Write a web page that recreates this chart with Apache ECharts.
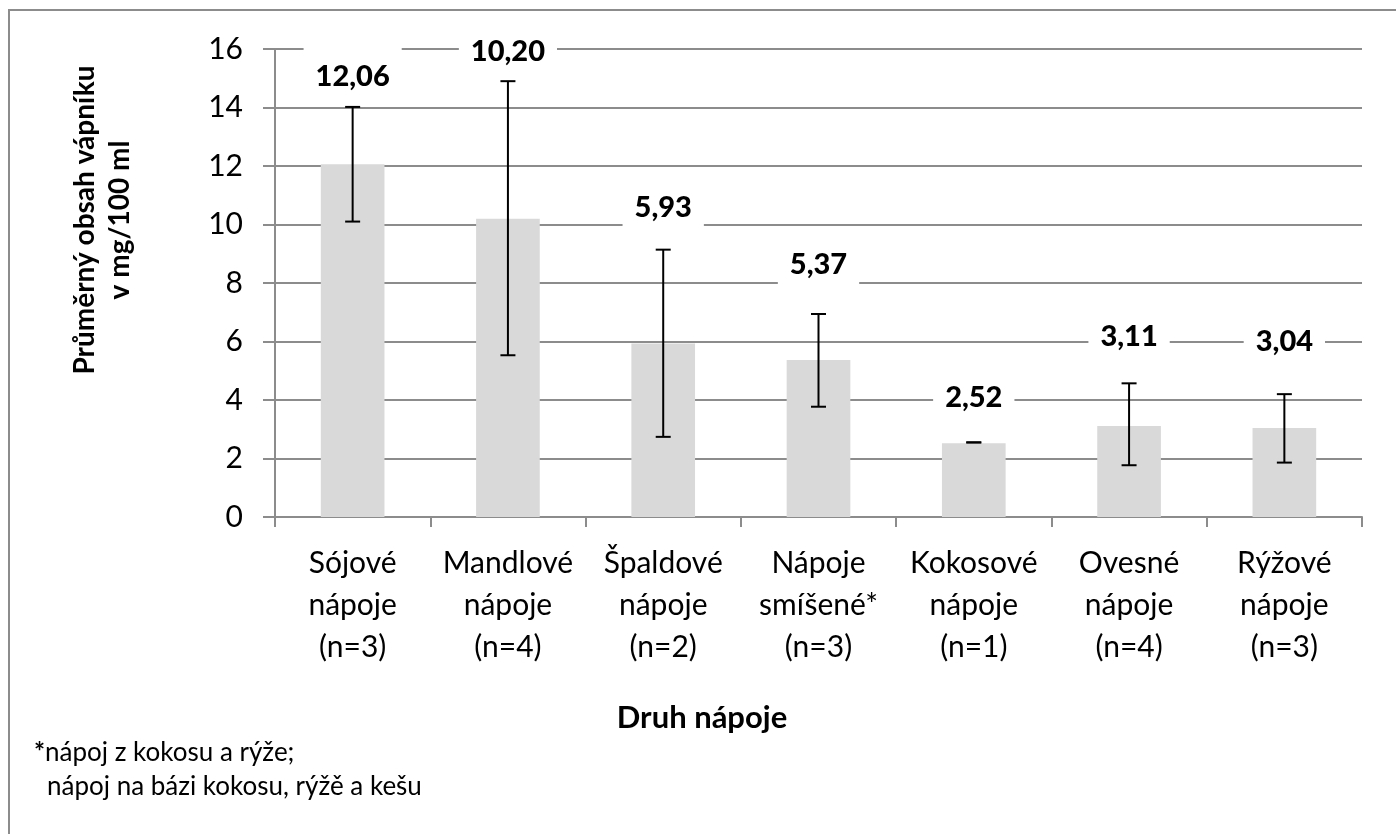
<!DOCTYPE html>
<html>
<head>
<meta charset="utf-8">
<script src="https://cdn.jsdelivr.net/npm/echarts@6/dist/echarts.min.js"></script>
<style>
html,body{margin:0;padding:0;background:#fff;}
#chart{width:1396px;height:834px;}
</style>
</head>
<body>
<div id="chart"></div>
<script>
const categories = [
  'Sójové\nnápoje\n(n=3)',
  'Mandlové\nnápoje\n(n=4)',
  'Špaldové\nnápoje\n(n=2)',
  'Nápoje\nsmíšené*\n(n=3)',
  'Kokosové\nnápoje\n(n=1)',
  'Ovesné\nnápoje\n(n=4)',
  'Rýžové\nnápoje\n(n=3)'
];
const means = [12.06, 10.20, 5.93, 5.37, 2.52, 3.11, 3.04];
const errLow = [10.10, 5.53, 2.74, 3.77, 2.55, 1.77, 1.86];
const errHigh = [14.02, 14.90, 9.14, 6.94, 2.55, 4.57, 4.20];
const labelY = [15.05, 15.9, 10.56, 8.62, 4.07, 6.16, 6.0];
const yTicks = [0, 2, 4, 6, 8, 10, 12, 14, 16];

const FONT = 'Lato';
const chart = echarts.init(document.getElementById('chart'));

const errData = categories.map((c, i) => [i, errLow[i], errHigh[i]]);
const labelData = categories.map((c, i) => [i, labelY[i]]);

chart.setOption({
  animation: false,
  backgroundColor: '#fff',
  grid: { left: 275, right: 34, top: 49, bottom: 317, containLabel: false },
  xAxis: {
    type: 'category',
    data: categories,
    boundaryGap: true,
    axisLine: { lineStyle: { color: '#8c8c8c', width: 2 } },
    axisTick: { show: true, interval: 0, length: 10, lineStyle: { color: '#8c8c8c', width: 2 } },
    axisLabel: { interval: 0, fontFamily: FONT, fontSize: 30, color: '#000', lineHeight: 42, margin: 25 },
    splitLine: { show: false }
  },
  yAxis: {
    type: 'value',
    min: yTicks[0],
    max: yTicks[yTicks.length - 1],
    interval: 2,
    axisLine: { show: true, lineStyle: { color: '#8c8c8c', width: 2 } },
    axisTick: { show: true, length: 12, lineStyle: { color: '#8c8c8c', width: 2 } },
    axisLabel: { fontFamily: FONT, fontSize: 30, color: '#000', margin: 32 },
    splitLine: { show: true, lineStyle: { color: '#8c8c8c', width: 2 } }
  },
  series: [
    {
      type: 'bar',
      data: means,
      barWidth: '41%',
      itemStyle: { color: '#d9d9d9' },
      z: 2
    },
    {
      type: 'scatter',
      data: labelData,
      symbolSize: 2,
      itemStyle: { color: 'rgba(255,255,255,0)' },
      z: 5,
      label: {
        show: true,
        position: 'inside',
        formatter: function (p) { return means[p.dataIndex].toFixed(2).replace('.', ','); },
        fontFamily: FONT,
        fontWeight: 900,
        fontSize: 29,
        lineHeight: 30,
        color: '#000',
        textBorderWidth: 0,
        textBorderColor: 'transparent',
        opacity: 1,
        backgroundColor: '#fff',
        padding: [16, 12, 12, 12]
      },
      emphasis: { disabled: true }
    },
    {
      type: 'custom',
      data: errData,
      z: 8,
      renderItem: function (params, api) {
        const i = api.value(0);
        const lo = api.coord([i, api.value(1)]);
        const hi = api.coord([i, api.value(2)]);
        const hw = 7.5;
        const style = { stroke: '#000', lineWidth: 2 };
        return {
          type: 'group',
          children: [
            { type: 'line', shape: { x1: lo[0], y1: lo[1], x2: hi[0], y2: hi[1] }, style: style },
            { type: 'line', shape: { x1: hi[0] - hw, y1: hi[1], x2: hi[0] + hw, y2: hi[1] }, style: style },
            { type: 'line', shape: { x1: lo[0] - hw, y1: lo[1], x2: lo[0] + hw, y2: lo[1] }, style: style }
          ]
        };
      }
    }
  ],
  graphic: [
    {
      type: 'rect',
      shape: { x: 9, y: 10, width: 1500, height: 900 },
      style: { fill: 'none', stroke: '#8c8c8c', lineWidth: 2 },
      silent: true, z: 100
    },
    {
      type: 'text',
      x: 102, y: 220,
      rotation: Math.PI / 2,
      style: {
        text: 'Průměrný obsah vápníku\nv mg/100 ml',
        fontFamily: FONT, fontWeight: 'bold', fontSize: 28, lineHeight: 35,
        fill: '#000', textAlign: 'center', textVerticalAlign: 'middle'
      }
    },
    {
      type: 'text',
      x: 702, y: 718,
      style: {
        text: 'Druh nápoje',
        fontFamily: FONT, fontWeight: 'bold', fontSize: 31,
        fill: '#000', textAlign: 'center', textVerticalAlign: 'middle'
      }
    },
    {
      type: 'text',
      x: 34, y: 753,
      style: {
        rich: { b: { fontFamily: FONT, fontWeight: 'bold', fontSize: 26, fill: '#000' },
                n: { fontFamily: FONT, fontSize: 26, fill: '#000' } },
        text: '{b|*}{n|nápoj z kokosu a rýže;}',
        textVerticalAlign: 'middle'
      }
    },
    {
      type: 'text',
      x: 47, y: 787,
      style: {
        text: 'nápoj na bázi kokosu, rýžě a kešu',
        fontFamily: FONT, fontSize: 26, fill: '#000',
        textVerticalAlign: 'middle'
      }
    }
  ]
});
</script>
</body>
</html>
